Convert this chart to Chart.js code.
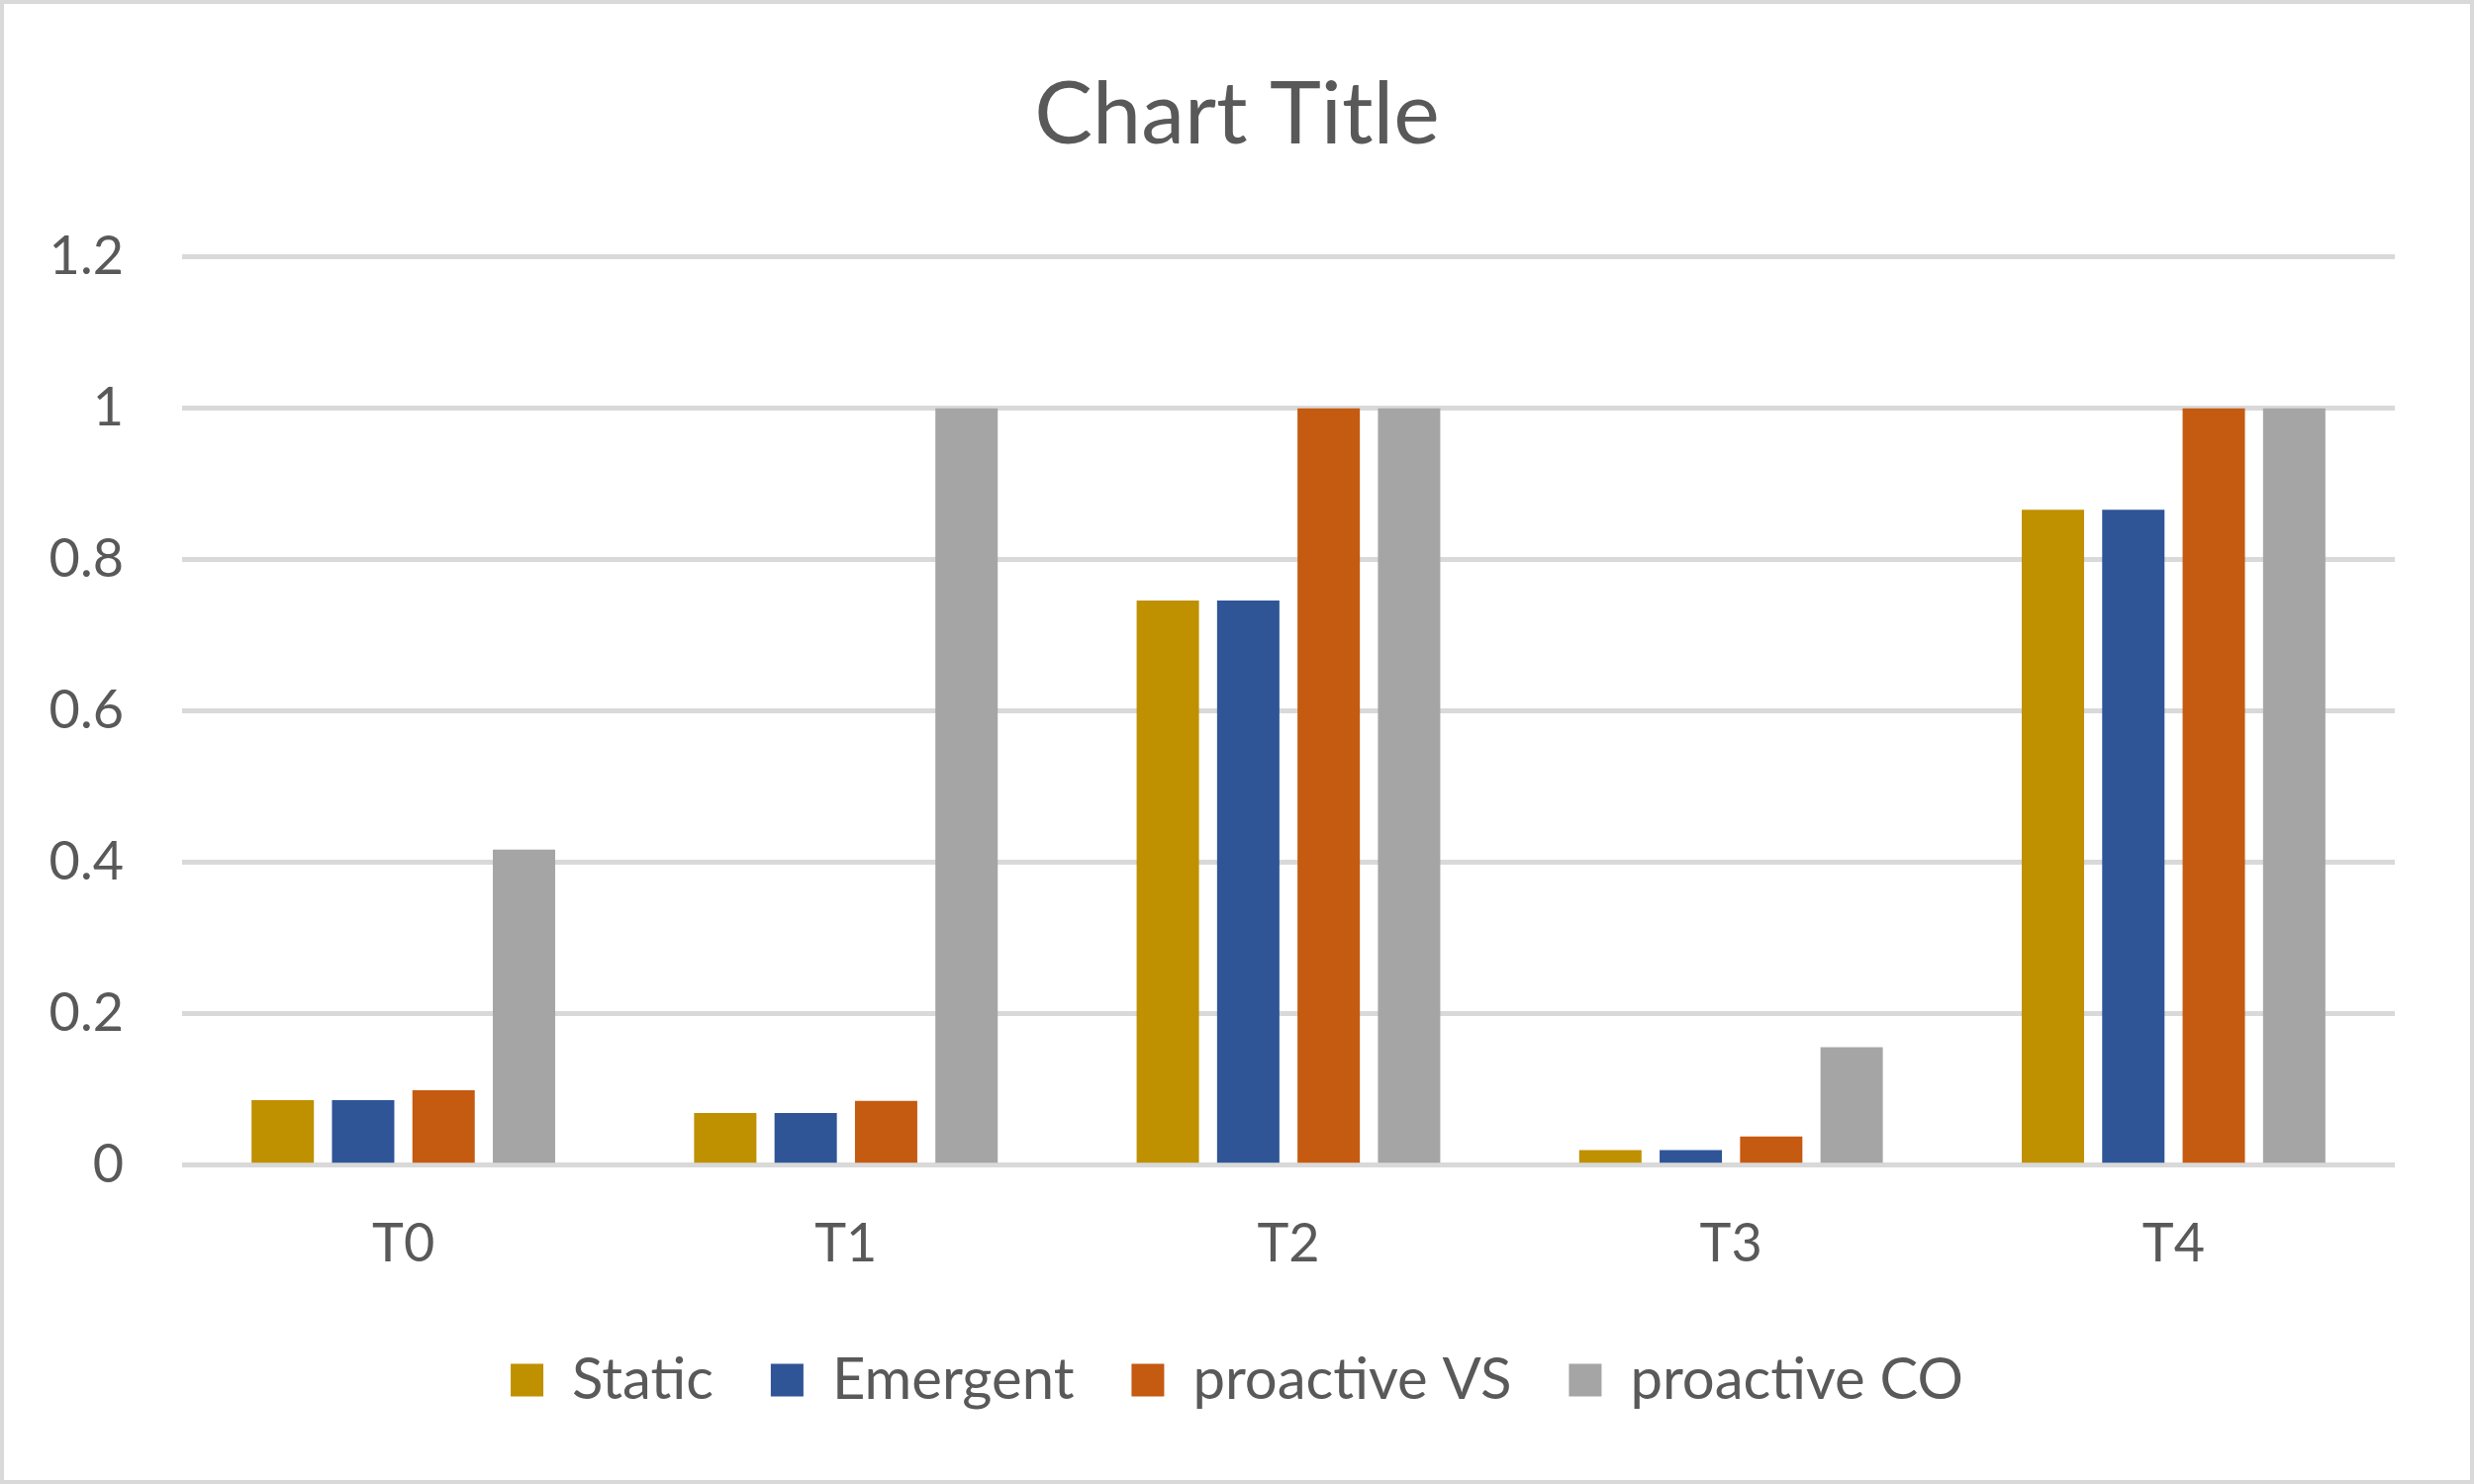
<!DOCTYPE html>
<html>
<head>
<meta charset="utf-8">
<script src="https://cdn.jsdelivr.net/npm/chart.js@4.4.0/dist/chart.umd.min.js"></script>
<style>
  html, body { margin: 0; padding: 0; background: #fff; }
  #wrap { width: 2500px; height: 1500px; position: relative; }
</style>
</head>
<body>
<div id="wrap"><canvas id="chart" width="2500" height="1500"></canvas></div>
<script>
// values
const categories = ['T0', 'T1', 'T2', 'T3', 'T4'];
const staticVals = [0.086, 0.069, 0.746, 0.02, 0.866];
const emergentVals = [0.086, 0.069, 0.746, 0.02, 0.866];
const proactiveVS = [0.099, 0.085, 1, 0.038, 1];
const proactiveCO = [0.417, 1, 1, 0.156, 1];
const yTickLabels = ['0', '0.2', '0.4', '0.6', '0.8', '1', '1.2'];

const textColor = '#595959';
const gridColor = '#d9d9d9';
const fontFamily = 'Lato, "Open Sans", sans-serif';

// white background + thin frame round the whole chart
const frame = {
  id: 'frame',
  beforeDraw(chart) {
    const ctx = chart.ctx;
    ctx.save();
    ctx.fillStyle = '#fff';
    ctx.fillRect(0, 0, chart.width, chart.height);
    ctx.strokeStyle = gridColor;
    ctx.lineWidth = 4;
    ctx.strokeRect(2, 2, chart.width - 4, chart.height - 4);
    ctx.restore();
  }
};

const bar = (label, data, color) => ({
  label: label,
  data: data,
  backgroundColor: color,
  borderWidth: 0,
  categoryPercentage: 0.727,
  barPercentage: 0.775
});

const ctx = document.getElementById('chart').getContext('2d');
new Chart(ctx, {
  type: 'bar',
  data: {
    labels: categories,
    datasets: [
      bar('Static', staticVals, '#BF9000'),
      bar('Emergent', emergentVals, '#2F5597'),
      bar('proactive VS', proactiveVS, '#C55A11'),
      bar('proactive CO', proactiveCO, '#A5A5A5')
    ]
  },
  options: {
    responsive: false,
    devicePixelRatio: 1,
    animation: false,
    layout: { padding: { top: 0, left: 0, right: 0, bottom: 66 } },
    plugins: {
      title: {
        display: true,
        text: 'Chart Title',
        color: textColor,
        font: { family: fontFamily, size: 88, weight: 'normal' },
        padding: { top: 64, bottom: 90 }
      },
      legend: {
        position: 'bottom',
        // empty title only used as extra space above the legend row
        title: { display: true, text: '', font: { size: 1 }, padding: { top: 18, bottom: 0 } },
        labels: {
          color: textColor,
          font: { family: fontFamily, size: 58 },
          boxWidth: 33,
          boxHeight: 33,
          padding: 58
        }
      },
      tooltip: { enabled: false }
    },
    scales: {
      x: {
        grid: { display: false, drawTicks: false },
        border: { display: false },
        ticks: {
          color: textColor,
          font: { family: fontFamily, size: 54 },
          padding: 47
        },
        afterFit: (scale) => { scale.height = 111; }
      },
      y: {
        min: 0,
        max: 1.2,
        grid: { color: gridColor, lineWidth: 5, drawTicks: false },
        border: { display: false },
        ticks: {
          stepSize: 0.2,
          color: textColor,
          font: { family: fontFamily, size: 54 },
          padding: 59,
          callback: (v, i) => yTickLabels[i]
        },
        afterFit: (scale) => { scale.width = 184; }
      },
      // empty axis that only keeps the right margin of the plot
      yRight: {
        type: 'linear',
        position: 'right',
        grid: { display: false, drawTicks: false },
        border: { display: false },
        ticks: { display: false },
        afterFit: (scale) => { scale.width = 80; }
      }
    }
  },
  plugins: [frame]
});
</script>
</body>
</html>
